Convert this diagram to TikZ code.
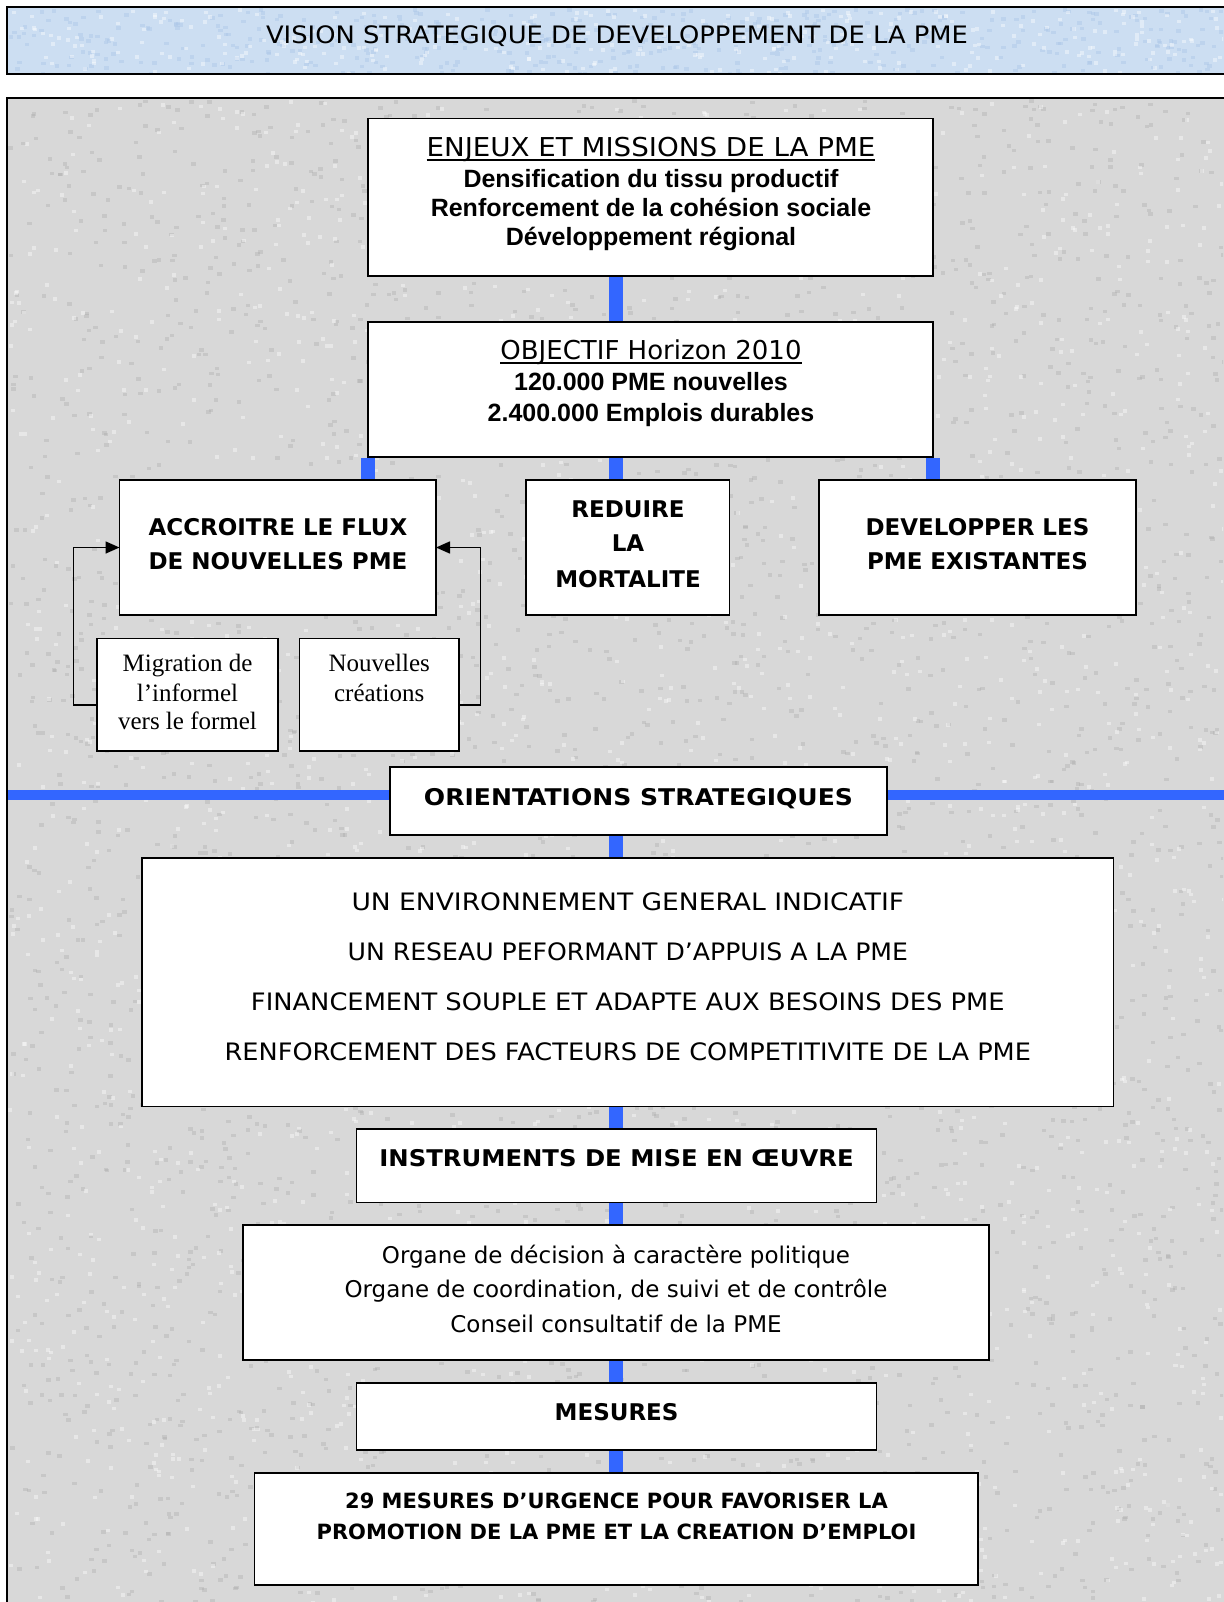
\documentclass[tikz,border=0pt]{standalone}
\usepackage{fontspec}
\setmainfont{DejaVu Sans}
\newfontfamily\arialf{Liberation Sans}
\newfontfamily\timesf{Liberation Serif}
\usetikzlibrary{arrows.meta}
\definecolor{barblue}{RGB}{51,102,255}
\definecolor{panelgray}{RGB}{216,216,216}
\definecolor{speckdark}{RGB}{170,170,170}
\definecolor{bannerblue}{RGB}{204,222,242}
\definecolor{bannerspeck}{RGB}{172,198,232}
\newcommand{\ulb}[1]{\setbox0=\hbox{#1}\hbox{\rlap{\rule[-4.5pt]{\wd0}{2.3pt}}\box0}}
\newcommand{\hs}[2]{\scalebox{#1}[1]{#2}}
\begin{document}
\begin{tikzpicture}[x=1pt,y=-1pt,
  box/.style={draw=black, line width=1.6pt, fill=white, inner sep=0pt, outer sep=0pt},
  frame/.style={draw=black, line width=1.8pt, inner sep=0pt, outer sep=0pt},
  vbar/.style={draw=barblue, line width=14pt, shorten <=0.8pt, shorten >=0.8pt},
  hbar/.style={draw=barblue, line width=10pt, shorten <=0.8pt, shorten >=0.8pt},
  link/.style={draw=black, line width=1.6pt, -{Triangle[length=14pt,width=12pt]}},
  txt/.style={anchor=base, inner sep=0pt},
  light/.style={txt, font=\fontsize{24}{28}\selectfont},
  head/.style={txt, font=\fontsize{26}{30}\selectfont},
  arb/.style={txt, font=\arialf\bfseries\fontsize{25}{28}\selectfont},
  heavy/.style={txt, font=\bfseries\fontsize{23}{27}\selectfont},
  serif/.style={txt, font=\timesf\fontsize{25}{28}\selectfont},
  organe/.style={txt, font=\fontsize{23}{27}\selectfont},
  urg/.style={txt, font=\bfseries\fontsize{21}{25}\selectfont}]
\useasboundingbox (0,0) rectangle (1223,1602);

\fill[white] (0,0) rectangle (1223,1602);
\node[frame, draw=none, fill=bannerblue, minimum width=1228pt, minimum height=67pt] (banner) at (621,40.5) {};
\node[frame, draw=none, fill=panelgray, minimum width=1228pt, minimum height=1517pt] (panel) at (621,856.5) {};
\pgfmathsetseed{4242}
\begin{scope}
\clip (8,99) rectangle (1223,1602);
\foreach \k in {1,...,3200}{
  \pgfmathsetmacro\px{8+rnd*1215}
  \pgfmathsetmacro\py{99+rnd*1503}
  \fill[speckdark, opacity=0.35] (\px,\py) rectangle ++(4.5,3.5);
}
\foreach \k in {1,...,2000}{
  \pgfmathsetmacro\px{8+rnd*1215}
  \pgfmathsetmacro\py{99+rnd*1503}
  \fill[white, opacity=0.4] (\px,\py) rectangle ++(4,3.5);
}
\end{scope}
\begin{scope}
\clip (8,8) rectangle (1223,73);
\foreach \k in {1,...,450}{
  \pgfmathsetmacro\px{8+rnd*1215}
  \pgfmathsetmacro\py{8+rnd*65}
  \fill[bannerspeck, opacity=0.45] (\px,\py) rectangle ++(4.5,3.5);
}
\foreach \k in {1,...,300}{
  \pgfmathsetmacro\px{8+rnd*1215}
  \pgfmathsetmacro\py{8+rnd*65}
  \fill[white, opacity=0.4] (\px,\py) rectangle ++(4,3.5);
}
\end{scope}
\draw[black, line width=1.8pt] (banner.north east) -| (banner.south west) -| (banner.north east);
\draw[black, line width=1.5pt] (panel.north east) -| (panel.south west) -| (panel.north east);

% boxes
\node[box, minimum width=565pt, minimum height=157.5pt] (enjeux) at (650.5,197.25) {};
\node[box, minimum width=565pt, minimum height=135pt] (objectif) at (650.5,389.5) {};
\node[box, minimum width=316.5pt, minimum height=135pt] (accroitre) at (277.75,547.5) {};
\node[box, minimum width=203.5pt, minimum height=135pt] (reduire) at (627.75,547.5) {};
\node[box, minimum width=317pt, minimum height=135pt] (developper) at (977.5,547.5) {};
\node[box, minimum width=181pt, minimum height=112.5pt] (migration) at (187.5,694.75) {};
\node[box, minimum width=159.6pt, minimum height=112.5pt] (nouvelles) at (379.2,694.75) {};
\node[box, minimum width=497pt, minimum height=68pt] (orient) at (638.5,801) {};
\node[box, minimum width=971.6pt, minimum height=248.5pt] (envir) at (627.8,982.25) {};
\node[box, minimum width=520pt, minimum height=73.5pt] (instr) at (616.6,1165.75) {};
\node[box, minimum width=746pt, minimum height=135pt] (organe) at (616,1292.5) {};
\node[box, minimum width=520pt, minimum height=67pt] (mesures) at (616.6,1416.5) {};
\node[box, minimum width=723.4pt, minimum height=112pt] (urgence) at (616.1,1529) {};

% blue connectors
\coordinate (spine) at (616,0);
\draw[vbar] (spine |- enjeux.south) -- (spine |- objectif.north);
\draw[vbar] (objectif.south west) -- (objectif.south west |- accroitre.north);
\draw[vbar] (spine |- objectif.south) -- (spine |- reduire.north);
\draw[vbar] (objectif.south east) -- (objectif.south east |- developper.north);
\draw[hbar] ([yshift=6pt]orient.west) -- ([yshift=6pt]orient.west -| panel.west);
\draw[hbar] ([yshift=6pt]orient.east) -- ([yshift=6pt]orient.east -| panel.east);
\draw[vbar] (spine |- orient.south) -- (spine |- envir.north);
\draw[vbar] (spine |- envir.south) -- (spine |- instr.north);
\draw[vbar] (spine |- instr.south) -- (spine |- organe.north);
\draw[vbar] (spine |- organe.south) -- (spine |- mesures.north);
\draw[vbar] (spine |- mesures.south) -- (spine |- urgence.north);

% side arrows
\draw[link] ([yshift=-10pt]migration.west) -- ++(-23.5,0) |- (accroitre.west);
\draw[link] ([yshift=-10pt]nouvelles.east) -- ++(21.5,0) |- (accroitre.east);

% texts
\node[light] (tbanner) at (617,43.6) {\hs{1.075}{VISION STRATEGIQUE DE DEVELOPPEMENT DE LA PME}};

\node[head] (tenj) at (651,156.4) {\ulb{\hs{1.065}{ENJEUX ET MISSIONS DE LA PME}}};
\node[arb] (tenj1) at (651,188) {Densification du tissu productif};
\node[arb] (tenj2) at (651,216.5) {Renforcement de la cohésion sociale};
\node[arb] (tenj3) at (651,246) {Développement régional};

\node[head] (tobj) at (651,359.4) {\ulb{OBJECTIF Horizon 2010}};
\node[arb] (tobj1) at (651,390) {120.000 PME nouvelles};
\node[arb] (tobj2) at (651,421) {2.400.000 Emplois durables};

\node[heavy] (tacc1) at (278,535.3) {ACCROITRE LE FLUX};
\node[heavy] (tacc2) at (278,569.3) {DE NOUVELLES PME};

\node[heavy] (tred1) at (628,517.3) {REDUIRE};
\node[heavy] (tred2) at (628,551.8) {LA};
\node[heavy] (tred3) at (628,587.3) {MORTALITE};

\node[heavy] (tdev1) at (977.5,535.3) {DEVELOPPER LES};
\node[heavy] (tdev2) at (977.5,569.3) {PME EXISTANTES};

\node[serif] (tmig1) at (187.5,671) {Migration de};
\node[serif] (tmig2) at (187.5,701) {l’informel};
\node[serif] (tmig3) at (187.5,729) {vers le formel};

\node[serif] (tnou1) at (379.2,671) {Nouvelles};
\node[serif] (tnou2) at (379.2,701) {créations};

\node[heavy] (tori) at (638.5,805.3) {\hs{1.09}{ORIENTATIONS STRATEGIQUES}};

\node[light] (tenv1) at (627.8,910.6) {\hs{1.105}{UN ENVIRONNEMENT GENERAL INDICATIF}};
\node[light] (tenv2) at (627.8,960.6) {\hs{1.048}{UN RESEAU PEFORMANT D’APPUIS A LA PME}};
\node[light] (tenv3) at (627.8,1010.6) {\hs{1.073}{FINANCEMENT SOUPLE ET ADAPTE AUX BESOINS DES PME}};
\node[light] (tenv4) at (627.8,1060.6) {\hs{1.068}{RENFORCEMENT DES FACTEURS DE COMPETITIVITE DE LA PME}};

\node[heavy] (tins) at (616.6,1166.9) {\hs{1.057}{INSTRUMENTS DE MISE EN ŒUVRE}};

\node[organe] (torg1) at (616,1263) {Organe de décision à caractère politique};
\node[organe] (torg2) at (616,1297.3) {Organe de coordination, de suivi et de contrôle};
\node[organe] (torg3) at (616,1332.3) {Conseil consultatif de la PME};

\node[heavy] (tmes) at (616.6,1420.3) {MESURES};

\node[urg] (turg1) at (616.5,1508.6) {29 MESURES D’URGENCE POUR FAVORISER LA};
\node[urg] (turg2) at (616.5,1539.2) {PROMOTION DE LA PME ET LA CREATION D’EMPLOI};
\end{tikzpicture}
\end{document}
